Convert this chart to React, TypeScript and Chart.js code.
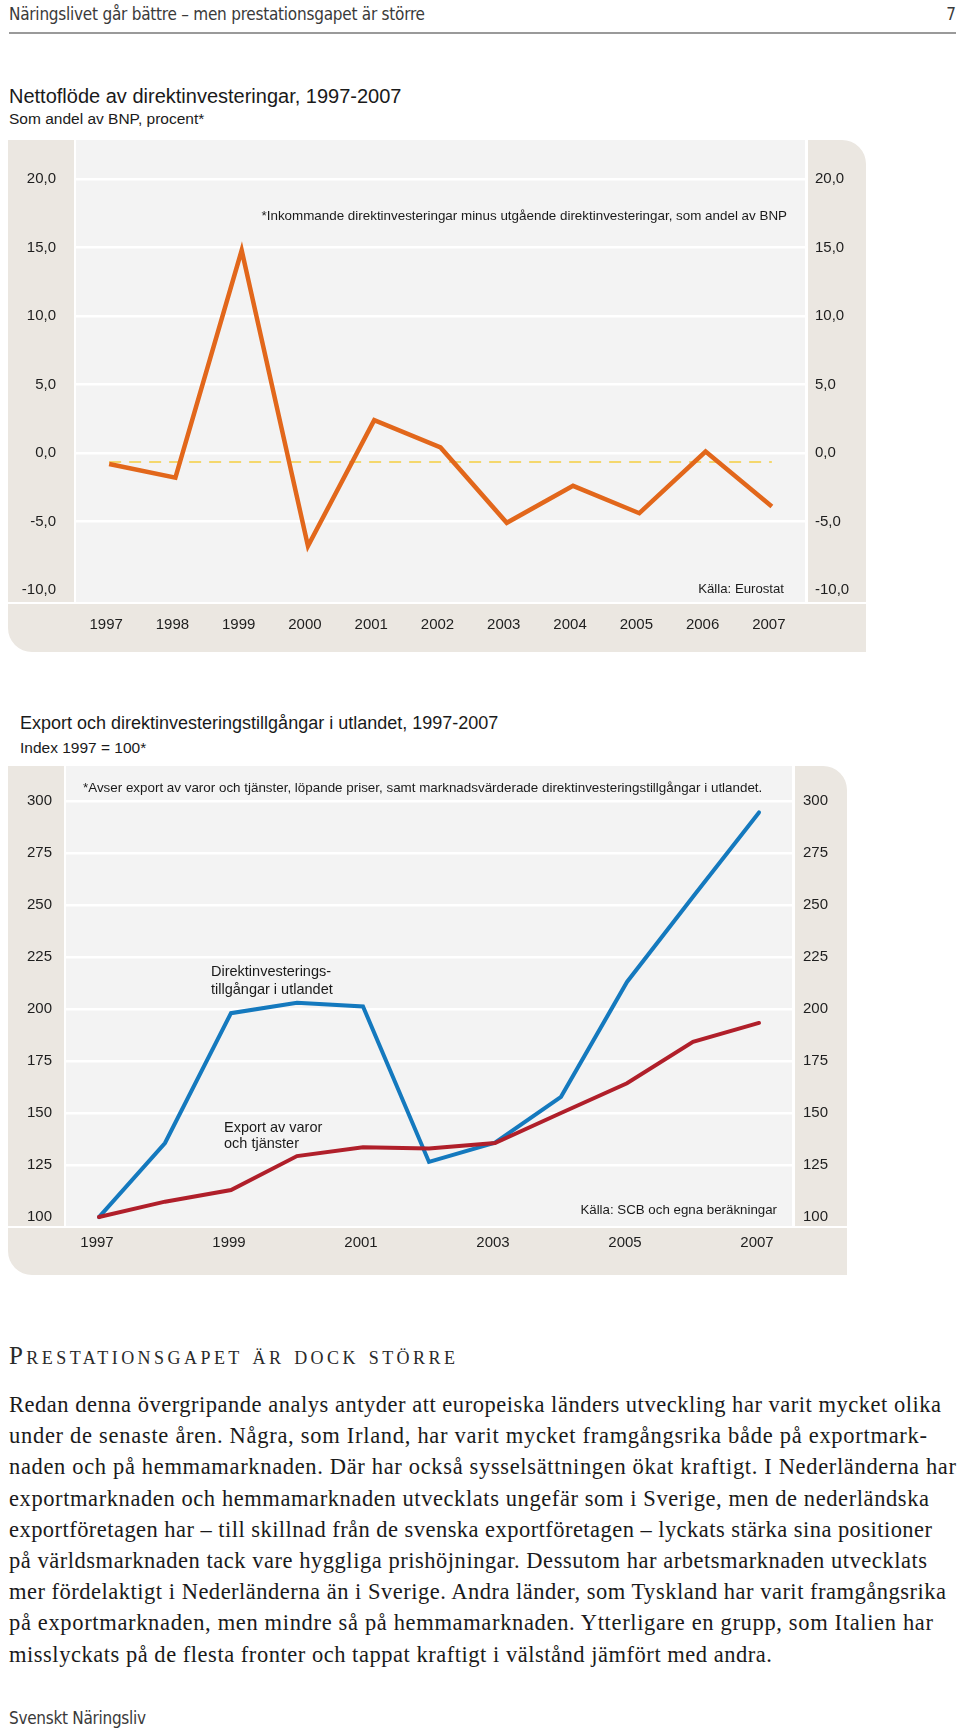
import React, { useEffect, useLayoutEffect, useRef } from 'react';
import { Chart, registerables } from 'chart.js';

Chart.register(...registerables);

// ---------- Data: chart 1 ----------
const years1 = ['1997', '1998', '1999', '2000', '2001', '2002', '2003', '2004', '2005', '2006', '2007'];
const netFlow = [-0.8, -1.8, 14.8, -6.8, 2.4, 0.4, -5.1, -2.4, -4.4, 0.1, -3.9];
const netFlowAverage = -0.65;
const yTicks1 = [-10, -5, 0, 5, 10, 15, 20];
const yTickLabels1 = ['-10,0', '-5,0', '0,0', '5,0', '10,0', '15,0', '20,0'];

// ---------- Data: chart 2 ----------
const years2 = ['1997', '1998', '1999', '2000', '2001', '2002', '2003', '2004', '2005', '2006', '2007'];
const xTickLabels2 = ['1997', '', '1999', '', '2001', '', '2003', '', '2005', '', '2007'];
const fdiAssets = [100, 135.6, 198, 203, 201.2, 126.5, 135.8, 157.8, 213, 254, 294.5];
const exportIndex = [100, 107.4, 113, 129.3, 133.5, 133, 135.6, 150, 164.3, 184.2, 193.3];
const yTicks2 = [100, 125, 150, 175, 200, 225, 250, 275, 300];
const yTickLabels2 = ['100', '125', '150', '175', '200', '225', '250', '275', '300'];

const bodyLines = [
  'Redan denna övergripande analys antyder att europeiska länders utveckling har varit mycket olika',
  'under de senaste åren. Några, som Irland, har varit mycket framgångsrika både på exportmark-',
  'naden och på hemmamarknaden. Där har också sysselsättningen ökat kraftigt. I Nederländerna har',
  'exportmarknaden och hemmamarknaden utvecklats ungefär som i Sverige, men de nederländska',
  'exportföretagen har – till skillnad från de svenska exportföretagen – lyckats stärka sina positioner',
  'på världsmarknaden tack vare hyggliga prishöjningar. Dessutom har arbetsmarknaden utvecklats',
  'mer fördelaktigt i Nederländerna än i Sverige. Andra länder, som Tyskland har varit framgångsrika',
  'på exportmarknaden, men mindre så på hemmamarknaden. Ytterligare en grupp, som Italien har',
  'misslyckats på de flesta fronter och tappat kraftigt i välstånd jämfört med andra.',
];
const bodyLineRightEdges = [941, 927, 956, 929, 932, 927, 946, 933, 772];

const SANS = '"Liberation Sans", Arial, Helvetica, sans-serif';
const SERIF = '"Liberation Serif", "Times New Roman", serif';
const NARROW = '"Liberation Sans Narrow", "DejaVu Sans Condensed", "Liberation Sans", sans-serif';
const BEIGE = '#ebe7e1';
const PLOT = '#f3f3f3';
const TICK_COLOR = '#1e1e1e';

function makePanelPlugin(radius: number) {
  return {
    id: 'panelBg',
    beforeDraw(chart: any) {
      const { ctx, chartArea: a, width, height } = chart;
      ctx.save();
      ctx.fillStyle = BEIGE;
      ctx.beginPath();
      ctx.moveTo(0, 0);
      ctx.lineTo(width - radius, 0);
      ctx.arcTo(width, 0, width, radius, radius);
      ctx.lineTo(width, height);
      ctx.lineTo(radius, height);
      ctx.arcTo(0, height, 0, height - radius, radius);
      ctx.closePath();
      ctx.fill();
      ctx.fillStyle = '#ffffff';
      ctx.fillRect(a.left - 2, 0, 2, a.bottom);
      ctx.fillRect(a.right, 0, 3, a.bottom);
      ctx.fillRect(0, a.bottom, width, 2);
      ctx.fillStyle = PLOT;
      ctx.fillRect(a.left, a.top, a.right - a.left, a.bottom - a.top);
      ctx.restore();
    },
  };
}

function yAxis(opts: {
  position: 'left' | 'right';
  min: number;
  max: number;
  ticks: number[];
  labels: string[];
  padding: number;
  width: number;
  grid: boolean;
  hidden: number[];
}) {
  return {
    type: 'linear',
    position: opts.position,
    min: opts.min,
    max: opts.max,
    border: { display: false },
    grid: opts.grid
      ? {
          drawTicks: false,
          lineWidth: 2.5,
          color: (c: any) => (c.tick && opts.hidden.includes(c.tick.value) ? 'rgba(0,0,0,0)' : '#ffffff'),
        }
      : { display: false, drawTicks: false },
    ticks: {
      padding: opts.padding,
      color: TICK_COLOR,
      font: { family: SANS, size: 15 },
      callback: (v: any) => {
        const i = opts.ticks.indexOf(Number(v));
        return i >= 0 ? opts.labels[i] : '';
      },
    },
    afterBuildTicks: (s: any) => {
      s.ticks = opts.ticks.map((v) => ({ value: v }));
    },
    afterFit: (s: any) => {
      s.width = opts.width;
      s.paddingTop = 0;
      s.paddingBottom = 0;
    },
  };
}

function xAxis(padding: number, height: number, labelOffset: number, labels?: string[]) {
  return {
    type: 'category',
    offset: true,
    grid: { display: false, drawTicks: false },
    border: { display: false },
    ticks: {
      padding,
      labelOffset,
      autoSkip: false,
      maxRotation: 0,
      color: TICK_COLOR,
      font: { family: SANS, size: 15 },
      ...(labels ? { callback: (_v: any, i: number) => labels[i] } : {}),
    },
    afterFit: (s: any) => {
      s.height = height;
      s.paddingLeft = 0;
      s.paddingRight = 0;
    },
  };
}

const baseOptions = {
  responsive: false,
  animation: false,
  events: [],
  layout: { padding: 0 },
  plugins: { legend: { display: false }, tooltip: { enabled: false } },
};

function NetFlowChart() {
  const ref = useRef<HTMLCanvasElement | null>(null);
  useEffect(() => {
    if (!ref.current) return;
    const chart = new Chart(ref.current, {
      type: 'line',
      data: {
        labels: years1,
        datasets: [
          {
            data: netFlow,
            borderColor: '#e2671b',
            borderWidth: 4.5,
            pointRadius: 0,
            tension: 0,
            borderJoinStyle: 'miter',
            borderCapStyle: 'butt',
            yAxisID: 'y',
            order: 1,
          },
          {
            data: [
              { x: years1[0], y: netFlowAverage },
              { x: years1[years1.length - 1], y: netFlowAverage },
            ],
            borderColor: '#f4d76c',
            borderWidth: 2,
            borderDash: [12, 8],
            pointRadius: 0,
            yAxisID: 'y',
            order: 2,
          },
        ],
      } as any,
      options: {
        ...baseOptions,
        scales: {
          x: xAxis(14, 50, -3),
          y: yAxis({ position: 'left', min: -10.88, max: 22.85, ticks: yTicks1, labels: yTickLabels1, padding: 20, width: 68, grid: true, hidden: [-10] }),
          y2: yAxis({ position: 'right', min: -10.88, max: 22.85, ticks: yTicks1, labels: yTickLabels1, padding: 10, width: 61, grid: false, hidden: [] }),
        },
      } as any,
      plugins: [makePanelPlugin(24)],
    });
    return () => chart.destroy();
  }, []);
  return <canvas ref={ref} width={858} height={512} style={{ width: 858, height: 512, display: 'block' }} />;
}

function ExportChart() {
  const ref = useRef<HTMLCanvasElement | null>(null);
  useEffect(() => {
    if (!ref.current) return;
    const chart = new Chart(ref.current, {
      type: 'line',
      data: {
        labels: years2,
        datasets: [
          {
            label: 'Direktinvesteringstillgångar i utlandet',
            data: fdiAssets,
            borderColor: '#1479be',
            borderWidth: 4,
            pointRadius: 0,
            tension: 0,
            borderCapStyle: 'round',
            yAxisID: 'y',
            order: 2,
          },
          {
            label: 'Export av varor och tjänster',
            data: exportIndex,
            borderColor: '#b01f2a',
            borderWidth: 4,
            pointRadius: 0,
            tension: 0,
            borderCapStyle: 'round',
            yAxisID: 'y',
            order: 1,
          },
        ],
      } as any,
      options: {
        ...baseOptions,
        scales: {
          x: xAxis(8, 49, -2, xTickLabels2),
          y: yAxis({ position: 'left', min: 95.7, max: 316.8, ticks: yTicks2, labels: yTickLabels2, padding: 14, width: 58, grid: true, hidden: [100] }),
          y2: yAxis({ position: 'right', min: 95.7, max: 316.8, ticks: yTicks2, labels: yTickLabels2, padding: 11, width: 55, grid: false, hidden: [] }),
        },
      } as any,
      plugins: [makePanelPlugin(24)],
    });
    return () => chart.destroy();
  }, []);
  return <canvas ref={ref} width={839} height={509} style={{ width: 839, height: 509, display: 'block' }} />;
}

type TProps = {
  x: number;
  y: number;
  size: number;
  children: React.ReactNode;
  align?: 'left' | 'right';
  family?: string;
  color?: string;
  lh?: number;
  style?: React.CSSProperties;
  fitRight?: number;
};

function T(props: TProps) {
  const ref = useRef<HTMLDivElement | null>(null);
  const lh = props.lh ?? Math.round(props.size * 1.25);
  useLayoutEffect(() => {
    const el = ref.current;
    if (!el || props.fitRight === undefined) return;
    el.style.letterSpacing = '0px';
    const w = el.getBoundingClientRect().width;
    const n = Array.from(el.textContent || '').length;
    const ls = (props.fitRight - props.x - w) / Math.max(1, n - 1);
    el.style.letterSpacing = `${ls}px`;
  }, []);
  const pos: React.CSSProperties =
    props.align === 'right' ? { right: 960 - props.x } : { left: props.x };
  return (
    <div
      ref={ref}
      style={{
        position: 'absolute',
        top: props.y - lh / 2,
        ...pos,
        fontFamily: props.family ?? SANS,
        fontSize: props.size,
        lineHeight: `${lh}px`,
        color: props.color ?? '#1a1a1a',
        whiteSpace: 'nowrap',
        ...props.style,
      }}
    >
      {props.children}
    </div>
  );
}

export default function App() {
  return (
    <div style={{ position: 'absolute', left: 0, top: 0, width: 960, height: 1730, background: '#fff', overflow: 'hidden' }}>
      {/* page header */}
      <T x={9} y={14} size={17} family={NARROW} color="#3a3a3a" fitRight={425} style={{ fontStretch: 'condensed' }}>
        Näringslivet går bättre – men prestationsgapet är större
      </T>
      <T x={956} y={14} size={17} family={NARROW} color="#3a3a3a" align="right">
        7
      </T>
      <div style={{ position: 'absolute', left: 9, top: 32, width: 947, height: 1.5, background: '#9a9a9a' }} />

      {/* chart 1 */}
      <T x={9} y={96} size={20}>Nettoflöde av direktinvesteringar, 1997-2007</T>
      <T x={9} y={118} size={15.5}>Som andel av BNP, procent*</T>
      <div style={{ position: 'absolute', left: 8, top: 140 }}>
        <NetFlowChart />
      </div>
      <T x={787} y={215} size={13.4} align="right">
        *Inkommande direktinvesteringar minus utgående direktinvesteringar, som andel av BNP
      </T>
      <T x={784} y={588} size={13.2} align="right">
        Källa: Eurostat
      </T>

      {/* chart 2 */}
      <T x={20} y={723} size={18}>Export och direktinvesteringstillgångar i utlandet, 1997-2007</T>
      <T x={20} y={747} size={15.5}>Index 1997 = 100*</T>
      <div style={{ position: 'absolute', left: 8, top: 766 }}>
        <ExportChart />
      </div>
      <T x={83} y={787} size={13.4}>
        *Avser export av varor och tjänster, löpande priser, samt marknadsvärderade direktinvesteringstillgångar i utlandet.
      </T>
      <T x={211} y={971} size={14.5} lh={18}>Direktinvesterings-</T>
      <T x={211} y={989} size={14.5} lh={18}>tillgångar i utlandet</T>
      <T x={224} y={1127} size={14.5} lh={16}>Export av varor</T>
      <T x={224} y={1143} size={14.5} lh={16}>och tjänster</T>
      <T x={777} y={1209} size={13.3} align="right">
        Källa: SCB och egna beräkningar
      </T>

      {/* text section */}
      <T x={9} y={1355} size={25} family={SERIF} color="#2a2a2a" fitRight={455} style={{ fontVariant: 'small-caps' }}>
        Prestationsgapet är dock större
      </T>
      {bodyLines.map((line, i) => (
        <T key={i} x={9} y={1405 + i * 31.2} size={22.5} family={SERIF} color="#1a1a1a" lh={30} fitRight={bodyLineRightEdges[i]}>
          {line}
        </T>
      ))}
      <T x={9} y={1718} size={17} family={NARROW} color="#3a3a3a" fitRight={146} style={{ fontStretch: 'condensed' }}>
        Svenskt Näringsliv
      </T>
    </div>
  );
}
